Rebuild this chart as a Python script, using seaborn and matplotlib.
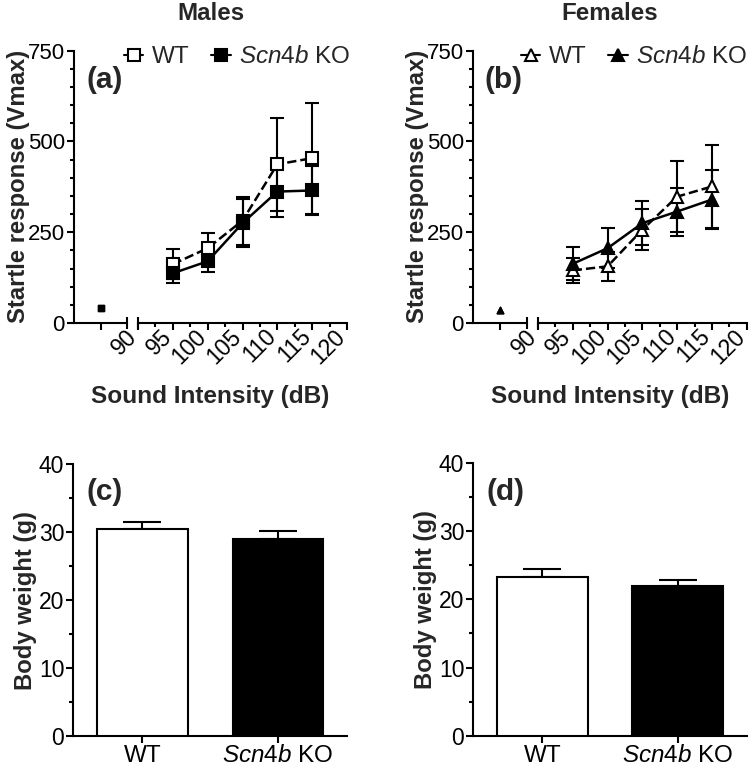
import numpy as np
import pandas as pd
import matplotlib
matplotlib.use('Agg')
import matplotlib.pyplot as plt
import matplotlib.transforms as mtransforms
import seaborn as sns
from matplotlib.lines import Line2D
from matplotlib.ticker import MultipleLocator, FixedLocator

# ---------------- data ----------------
intensity_db = [95, 100, 105, 110, 115]
intensity_ticks = [90, 95, 100, 105, 110, 115, 120]

male_wt_mean = [162, 206, 282, 437, 454]
male_wt_sem = [42, 43, 66, 128, 153]
male_ko_mean = [137, 170, 275, 362, 365]
male_ko_sem = [26, 30, 66, 70, 67]
male_baseline_wt = 40
male_baseline_ko = 40

female_wt_mean = [145, 156, 257, 348, 376]
female_wt_sem = [35, 40, 57, 97, 113]
female_ko_mean = [163, 206, 275, 307, 340]
female_ko_sem = [45, 55, 61, 66, 82]
female_baseline_wt = 37
female_baseline_ko = 37

genotypes = ['WT', 'Scn4b KO']
genotype_labels = ['WT', r'$\mathit{Scn4b}$ KO']
male_weight_mean = [30.4, 29.0]
male_weight_sem = [1.0, 1.2]
female_weight_mean = [23.3, 22.0]
female_weight_sem = [1.2, 0.8]

# ---------------- style ----------------
sns.set_style('ticks')
plt.rcParams['font.family'] = ['Liberation Sans', 'DejaVu Sans']
plt.rcParams['mathtext.fontset'] = 'custom'
plt.rcParams['mathtext.rm'] = 'Liberation Sans'
plt.rcParams['mathtext.it'] = 'Liberation Sans:italic'
plt.rcParams['mathtext.bf'] = 'Liberation Sans:bold'
plt.rcParams['axes.linewidth'] = 1.5
plt.rcParams['axes.edgecolor'] = 'black'

TICK_FS = 16
LAB_FS = 17.2
LEG_FS = 17.5
W, H = 750, 769
fig = plt.figure(figsize=(W / 100, H / 100), dpi=100)


def fax(x0, x1, ybot, ytop):
    return fig.add_axes([x0 / W, 1 - ybot / H, (x1 - x0) / W, (ybot - ytop) / H])


def style_ticks(ax):
    ax.tick_params(which='major', direction='out', length=5, width=1.5,
                   color='black', labelsize=TICK_FS, labelcolor='black', pad=1.5)
    ax.tick_params(which='minor', direction='out', length=3, width=1.5, color='black')
    for s in ['top', 'right']:
        ax.spines[s].set_visible(False)
    for s in ['left', 'bottom']:
        ax.spines[s].set_linewidth(1.5)
        ax.spines[s].set_color('black')


def break_mark(ax, x):
    ax.plot([x, x], [-0.022, 0.022], transform=ax.get_xaxis_transform(),
            color='black', lw=1.5, clip_on=False, solid_capstyle='butt')


def line_panel(xl0, xl1, xr0, xr1, wt_mean, wt_sem, ko_mean, ko_sem,
               base_wt, base_ko, marker, letter, title, legend_x):
    axL = fax(xl0, xl1, 323, 50.7)
    axR = fax(xr0, xr1, 323, 50.7)
    for ax in (axL, axR):
        style_ticks(ax)
        ax.set_ylim(0, 750)
    # left (baseline) segment
    axL.set_xlim(-1, 1)
    sns.scatterplot(x=[0], y=[base_wt], marker=marker, s=22, color='white',
                    edgecolor='black', linewidth=1, ax=axL, zorder=3, clip_on=False)
    sns.scatterplot(x=[0], y=[base_ko], marker=marker, s=22, color='black',
                    edgecolor='black', linewidth=1, ax=axL, zorder=4, clip_on=False)
    axL.set_xticks([0])
    axL.set_xticklabels([])
    axL.yaxis.set_major_locator(FixedLocator([0, 250, 500, 750]))
    axL.yaxis.set_minor_locator(MultipleLocator(50))
    axL.set_ylabel('Startle response (Vmax)', fontsize=LAB_FS, fontweight='bold')
    axL.yaxis.set_label_coords(-44 / (xl1 - xl0), 0.5)
    axL.set_xlabel('')
    break_mark(axL, 1)
    # right (90-120 dB) segment
    axR.spines['left'].set_visible(False)
    axR.tick_params(axis='y', which='both', left=False, labelleft=False)
    axR.set_xlim(90, 120)
    axR.errorbar(intensity_db, wt_mean, yerr=wt_sem, fmt='none', ecolor='black',
                 elinewidth=1.5, capsize=4.8, capthick=1.5, zorder=2)
    axR.errorbar(intensity_db, ko_mean, yerr=ko_sem, fmt='none', ecolor='black',
                 elinewidth=1.5, capsize=4.8, capthick=1.5, zorder=2)
    sns.lineplot(x=intensity_db, y=wt_mean, ax=axR, color='black', linestyle='--',
                 linewidth=1.8, marker=marker, markersize=9, markerfacecolor='white',
                 markeredgecolor='black', markeredgewidth=1.5, zorder=3, errorbar=None,
                 clip_on=False)
    sns.lineplot(x=intensity_db, y=ko_mean, ax=axR, color='black', linestyle='-',
                 linewidth=1.8, marker=marker, markersize=9, markerfacecolor='black',
                 markeredgecolor='black', markeredgewidth=1.5, zorder=4, errorbar=None,
                 clip_on=False)
    axR.set_xticks(intensity_ticks)
    axR.set_xticklabels([str(t) for t in intensity_ticks], rotation=45, ha='right',
                        va='center', rotation_mode='anchor', fontsize=16.5)
    shift = mtransforms.ScaledTranslation(-5 / 100, -1 / 100, fig.dpi_scale_trans)
    for lab in axR.get_xticklabels():
        lab.set_transform(lab.get_transform() + shift)
    axR.xaxis.set_minor_locator(MultipleLocator(2.5))
    axR.set_ylabel('')
    axR.set_xlabel('')
    break_mark(axR, 90)
    # labels
    cx = (xl0 + xr1) / 2
    fig.text(cx / W, 1 - 397 / H, 'Sound Intensity (dB)', ha='center', va='center',
             fontsize=LAB_FS + 0.4, fontweight='bold')
    fig.text(cx / W, 1 - 14 / H, title, ha='center', va='center', fontsize=17.4,
             fontweight='bold')
    fig.text((xl0 + 12) / W, 1 - 80 / H, letter, ha='left', va='center', fontsize=21.5,
             fontweight='bold')
    handles = [
        Line2D([], [], color='black', lw=1.5, marker=marker, markersize=9,
               markerfacecolor='white', markeredgecolor='black', markeredgewidth=1.5),
        Line2D([], [], color='black', lw=1.5, marker=marker, markersize=9,
               markerfacecolor='black', markeredgecolor='black', markeredgewidth=1.5),
    ]
    fig.legend(handles, genotype_labels, loc='center left',
               bbox_to_anchor=(legend_x / W, 1 - 57 / H), ncol=2, frameon=False,
               fontsize=LEG_FS, handlelength=0.8, handletextpad=0.35,
               columnspacing=0.9, borderpad=0, borderaxespad=0)
    return axL, axR


def bar_panel(x0, x1, ybot, ytop, means, sems, letter):
    ax = fax(x0, x1, ybot, ytop)
    style_ticks(ax)
    df = pd.DataFrame({'genotype': genotypes, 'weight': means})
    sns.barplot(data=df, x='genotype', y='weight', hue='genotype',
                palette={'WT': 'white', 'Scn4b KO': 'black'}, edgecolor='black',
                linewidth=1.5, width=0.67, errorbar=None, legend=False, ax=ax, zorder=3)
    ax.errorbar([0, 1], means, yerr=[[0, 0], sems], fmt='none', ecolor='black',
                elinewidth=1.5, capsize=13.5, capthick=1.5, zorder=2)
    ax.set_xlim(-0.51, 1.51)
    ax.set_ylim(0, 40)
    ax.set_xticks([0, 1])
    ax.set_xticklabels(genotype_labels, fontsize=LEG_FS)
    ax.tick_params(axis='y', labelsize=16.5)
    ax.yaxis.set_major_locator(MultipleLocator(10))
    ax.yaxis.set_minor_locator(MultipleLocator(5))
    ax.set_xlabel('')
    ax.set_ylabel('Body weight (g)', fontsize=LAB_FS, fontweight='bold', labelpad=1)
    fig.text((x0 + 13) / W, 1 - 492 / H, letter, ha='left', va='center', fontsize=21.5,
             fontweight='bold')
    return ax


line_panel(74, 127, 138, 347, male_wt_mean, male_wt_sem, male_ko_mean, male_ko_sem,
           male_baseline_wt, male_baseline_ko, 's', '(a)', 'Males', 124)
line_panel(473, 526.7, 538, 746.7, female_wt_mean, female_wt_sem, female_ko_mean,
           female_ko_sem, female_baseline_wt, female_baseline_ko, '^', '(b)', 'Females', 521)
bar_panel(73.3, 347, 736, 464, male_weight_mean, male_weight_sem, '(c)')
bar_panel(473.3, 746.7, 735.7, 463, female_weight_mean, female_weight_sem, '(d)')

fig.savefig('out.png', dpi=100)
